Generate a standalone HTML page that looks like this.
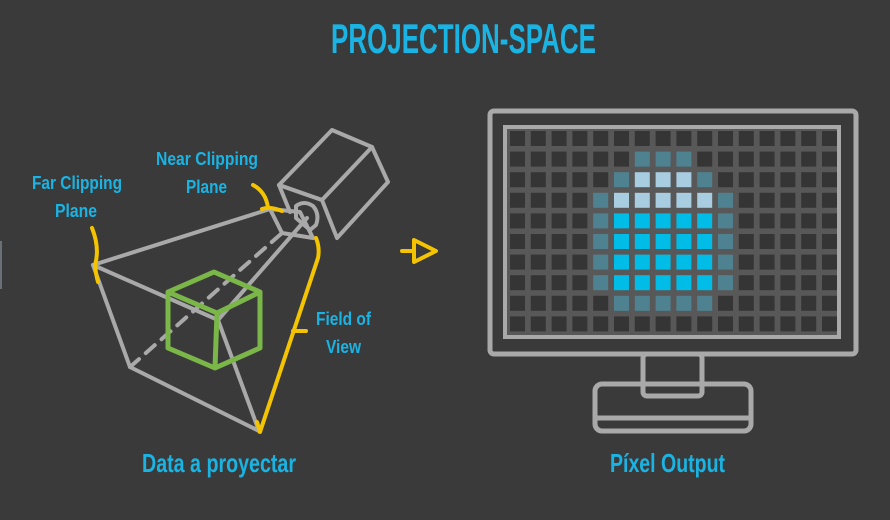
<!DOCTYPE html>
<html><head><meta charset="utf-8"><style>
html,body{margin:0;padding:0;background:#3a3a3a;}
svg{display:block}
text{font-family:"Liberation Sans",sans-serif;fill:#1ab4e4;font-weight:bold;}
</style></head><body>
<svg width="890" height="520" viewBox="0 0 890 520" xmlns="http://www.w3.org/2000/svg">
<rect width="890" height="520" fill="#3a3a3a"/>
<rect x="0" y="241" width="2" height="48" fill="#6a7078"/>
<text x="331" y="53" font-size="42" textLength="265" lengthAdjust="spacingAndGlyphs">PROJECTION-SPACE</text>
<text x="142" y="472" font-size="26" textLength="154" lengthAdjust="spacingAndGlyphs">Data a proyectar</text>
<text x="610" y="472" font-size="26" textLength="115" lengthAdjust="spacingAndGlyphs">Píxel Output</text>
<g font-size="18">
<text x="32" y="189" textLength="90" lengthAdjust="spacingAndGlyphs">Far Clipping</text>
<text x="55" y="217" textLength="42" lengthAdjust="spacingAndGlyphs">Plane</text>
<text x="156" y="165" textLength="102" lengthAdjust="spacingAndGlyphs">Near Clipping</text>
<text x="186" y="193" textLength="41" lengthAdjust="spacingAndGlyphs">Plane</text>
<text x="316" y="325" textLength="55" lengthAdjust="spacingAndGlyphs">Field of</text>
<text x="326" y="353" textLength="35" lengthAdjust="spacingAndGlyphs">View</text>
</g>
<g stroke="#a9a9a9" stroke-width="4" fill="none" stroke-linejoin="round" stroke-linecap="round">
<line x1="93" y1="265" x2="270" y2="209"/>
<line x1="93" y1="265" x2="218" y2="320"/>
<line x1="93" y1="265" x2="130" y2="367"/>
<line x1="130" y1="367" x2="259" y2="431"/>
<line x1="218" y1="320" x2="259" y2="431"/>
<line x1="218" y1="320" x2="307" y2="218"/>
<line x1="130" y1="367" x2="282" y2="233" stroke-dasharray="12 9"/>
<polyline points="270,209 282,233 313,238 300,212 270,209"/>
<polygon points="279,185 332,130 372,147 388,182 337,238 322,200"/>
<line x1="322" y1="200" x2="372" y2="147"/>
<line x1="279" y1="185" x2="322" y2="200"/>
<line x1="279" y1="185" x2="290" y2="212"/>
<path d="M296,206 Q304,200 313,206 Q320,214 316,225 L310,230 L296,218 Z"/>
</g>
<g stroke="#7ab648" stroke-width="5" fill="none" stroke-linejoin="round">
<polygon points="214,272 260,292 260,348 215,368 168,348 168,292"/>
<polyline points="168,292 217,313 260,292"/>
<line x1="217" y1="313" x2="215" y2="368"/>
</g>
<g stroke="#f5c400" stroke-width="4" fill="none" stroke-linecap="round" stroke-linejoin="round">
<path d="M92,228 Q100,248 95,265 Q96,275 98,282"/>
<path d="M253,185 Q266,192 268,208"/>
<path d="M262,209 Q270,206 282,211"/>
<path d="M316,238 Q320,248 318,258 L260,432 M257,422 L260,432"/>
<line x1="293" y1="331" x2="306" y2="331"/>
<line x1="402" y1="251" x2="414" y2="251"/>
<polygon points="414,240 436,251 414,262"/>
</g>
<g stroke="#a9a9a9" stroke-width="5" fill="none">
<rect x="490" y="111" width="366" height="243" rx="4"/>
<rect x="505" y="127" width="334" height="210" fill="#585858" stroke-width="4"/>
<rect x="643" y="354" width="59" height="42" rx="4" fill="#3a3a3a"/>
<rect x="595" y="384" width="156" height="47" rx="7"/>
<line x1="597" y1="418" x2="749" y2="418"/>
</g>
<g id="grid"></g>
<script>
var g=document.getElementById('grid');var ns='http://www.w3.org/2000/svg';
var T='#4e8290',L='#a8cce0',C='#00bde8',D='#353535';
var map={};
function s(r,c,col){map[r+','+c]=col;}
[6,7,8].forEach(c=>s(1,c,T));
s(2,5,T);[6,7,8].forEach(c=>s(2,c,L));s(2,9,T);
s(3,4,T);[5,6,7,8,9].forEach(c=>s(3,c,L));s(3,10,T);
for(var r=4;r<=7;r++){s(r,4,T);for(var c=5;c<=9;c++)s(r,c,C);s(r,10,T);}
[5,6,7,8,9].forEach(c=>s(8,c,T));
for(var r=0;r<10;r++)for(var c=0;c<16;c++){
var e=document.createElementNS(ns,'rect');
e.setAttribute('x',510+c*20.8);e.setAttribute('y',131+r*20.6);
e.setAttribute('width',15);e.setAttribute('height',15);
e.setAttribute('fill',map[r+','+c]||D);g.appendChild(e);}
</script>
</svg>
</body></html>
